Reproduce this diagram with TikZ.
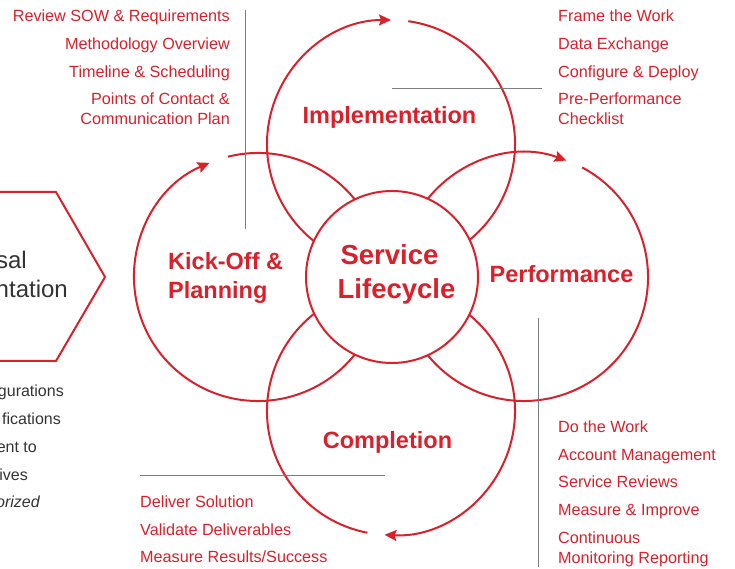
\documentclass[tikz,border=0pt]{standalone}
\usepackage{fontspec}
\setmainfont{Liberation Sans}[Ligatures=NoCommon]
\usetikzlibrary{arrows.meta}
\definecolor{lcred}{HTML}{D9202B}
\definecolor{leadgray}{HTML}{7D7D7D}
\definecolor{textgray}{HTML}{333333}

\begin{document}
\begin{tikzpicture}[%
    x=1pt, y=1pt,
    ring/.style={draw=lcred, line width=2pt},   % phase rings
    cyc/.style={ring, -{Stealth[length=12pt,width=11pt,inset=2pt]}},
    leader/.style={draw=leadgray, line width=0.8pt},
    phase/.style={text=lcred, font={\bfseries\fontsize{23.5}{28}\selectfont}, inner sep=0pt},
    hubtext/.style={text=lcred, font={\bfseries\fontsize{27.5}{33}\selectfont}, inner sep=0pt},
    item/.style={text=lcred, font={\fontsize{16.2}{20}\selectfont}, inner sep=0pt},
    prev/.style={text=textgray, font={\fontsize{16}{20}\selectfont}, inner sep=0pt}
    ]
    \useasboundingbox (0,0) rectangle (735,569);

    % ring centres
    \coordinate (impl) at (391,425);
    \coordinate (perf) at (524,292);
    \coordinate (comp) at (391,158);
    \coordinate (kick) at (258,292);

    % the four phase rings, clockwise, each ending in an arrow
    \draw[cyc] ([shift={(82:124)}]impl) arc[start angle=82, end angle=-270, radius=124];
    \draw[cyc] ([shift={(62:124)}]perf) arc[start angle=62, end angle=-290, radius=124];
    \draw[cyc] ([shift={(-101:124)}]comp) arc[start angle=-101, end angle=-453, radius=124];
    \draw[cyc] ([shift={(104:124)}]kick) arc[start angle=104, end angle=-247, radius=124];

    % centre hub
    \node[circle, ring, fill=white, inner sep=0pt, minimum size=172pt] (hub) at (392,292) {};
    \node[hubtext, anchor=base] (service) at (389.5,304) {Service};
    \node[hubtext, anchor=base] (lifecycle) at (396.5,270) {Lifecycle};

    % phase labels
    \node[phase, anchor=base] (implLabel) at (389.5,445) {Implementation};
    \node[phase, anchor=base] (perfLabel) at (561.5,286) {Performance};
    \node[phase, anchor=base] (compLabel) at (387.5,120) {Completion};
    \node[phase, anchor=base west] (kickLabel) at (168,299) {Kick-Off \&};
    \node[phase, anchor=base west] (planLabel) at (168,270) {Planning};

    % previous step, cut by the page edge
    \draw[ring, line width=2pt] (-5,377) -- (56,377) -- (105,292) -- (56,208) -- (-5,208);
    \node[prev, font={\fontsize{24}{29}\selectfont}, anchor=base east] (propA) at (27,300) {sal};
    \node[prev, font={\fontsize{24}{29}\selectfont}, anchor=base east] (propB) at (68,271) {ntation};
    \foreach \x/\y/\txt [count=\i] in {64/172/gurations, 61/144/fications, 37/116/ent to, 28/88/ives}
        \node[prev, anchor=base east] (prev\i) at (\x,\y) {\txt};
    \node[prev, font={\fontsize{16}{20}\selectfont\itshape}, anchor=base east] (prev5) at (40,61) {orized};

    % leader lines
    \coordinate (kickLeadA) at (245,559);
    \coordinate (kickLeadB) at (245,340);
    \coordinate (implLeadA) at (392,481);
    \coordinate (implLeadB) at (542,481);
    \coordinate (perfLeadA) at (538,251);
    \coordinate (perfLeadB) at (538,2);
    \coordinate (compLeadA) at (140,94);
    \coordinate (compLeadB) at (385,94);
    \draw[leader] (kickLeadA) -- (kickLeadB);
    \draw[leader] (implLeadA) -- (implLeadB);
    \draw[leader] (perfLeadA) -- (perfLeadB);
    \draw[leader] (compLeadA) -- (compLeadB);

    % task lists
    \foreach \y/\txt [count=\i] in {547/Review SOW \& Requirements, 519/Methodology Overview,
        491/Timeline \& Scheduling, 464/Points of Contact \&, 444/Communication Plan}
        \node[item, anchor=base east] (kickItem\i) at (230,\y) {\txt};
    \foreach \y/\txt [count=\i] in {547/Frame the Work, 519/Data Exchange,
        491/Configure \& Deploy, 464/Pre-Performance, 444/Checklist}
        \node[item, anchor=base west] (implItem\i) at (558,\y) {\txt};
    \foreach \y/\txt [count=\i] in {136/Do the Work, 108/Account Management, 81/Service Reviews,
        53/Measure \& Improve, 25/Continuous, 5/Monitoring Reporting}
        \node[item, anchor=base west] (perfItem\i) at (558,\y) {\txt};
    \foreach \y/\txt [count=\i] in {61/Deliver Solution, 33/Validate Deliverables, 6/{Measure Results/Success}}
        \node[item, anchor=base west] (compItem\i) at (140,\y) {\txt};
\end{tikzpicture}
\end{document}
